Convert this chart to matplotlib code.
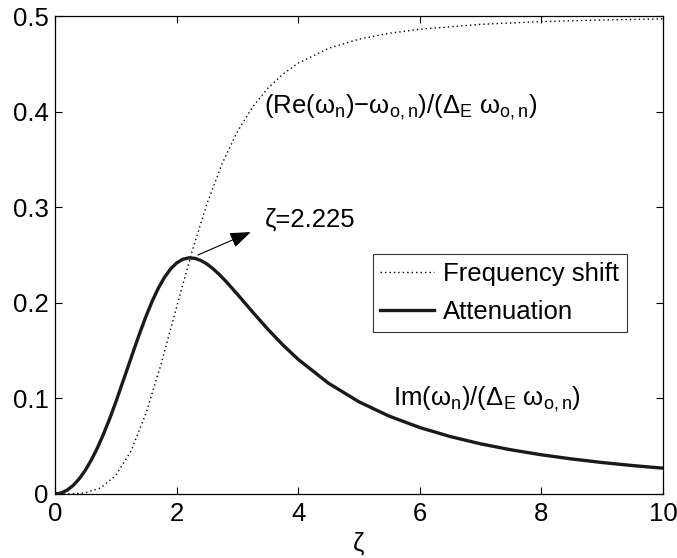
import matplotlib
matplotlib.use("Agg")
import matplotlib.pyplot as plt

plt.rcParams["font.family"] = ["Liberation Sans", "DejaVu Sans"]
plt.rcParams["mathtext.fontset"] = "custom"
plt.rcParams["mathtext.rm"] = "Liberation Sans"
plt.rcParams["mathtext.it"] = "Liberation Sans"
plt.rcParams["mathtext.default"] = "regular"

FS = 18.5

# frequency shift (dotted curve)
zeta_shift = [0, 0.25, 0.5, 0.75, 1.0, 1.25, 1.5, 1.75, 2.0, 2.25, 2.5, 2.75,
              3.0, 3.25, 3.5, 3.75, 4.0, 4.5, 5.0, 5.5, 6.0, 7.0, 8.0, 9.0, 10.0]
freq_shift = [0.0, 0.00008, 0.00126, 0.00632, 0.01944, 0.04491, 0.08483,
              0.13704, 0.19544, 0.25276, 0.30366, 0.34578, 0.37911, 0.40481,
              0.42440, 0.43930, 0.45068, 0.46621, 0.47578, 0.48197, 0.48616,
              0.49128, 0.49414, 0.49588, 0.49700]

# attenuation (solid curve)
zeta_att = [0, 0.1, 0.2, 0.3, 0.4, 0.5, 0.6, 0.7, 0.8, 0.9, 1.0,
            1.2, 1.3, 1.4, 1.5, 1.6, 1.7, 1.8, 1.9, 2.0, 2.1, 2.2, 2.3, 2.4,
            2.5, 2.6, 2.7, 2.8, 3.0, 3.25, 3.5, 3.75, 4.0, 4.5, 5.0, 5.5,
            6.0, 6.5, 7.0, 7.5, 8.0, 8.5, 9.0, 9.5, 10.0]
attenuation = [0.0, 0.00100, 0.00400, 0.00900, 0.01598, 0.02494, 0.03581,
               0.04852, 0.06294, 0.07888, 0.09607,
               0.13272, 0.15129, 0.16933, 0.18635, 0.20179, 0.21530, 0.22654,
               0.23534, 0.24162, 0.24547, 0.24703, 0.24654, 0.24429,
               0.24055, 0.23562, 0.22978, 0.22325, 0.20899, 0.19042, 0.17244,
               0.15582, 0.14084, 0.11580, 0.09640, 0.08135,
               0.06953, 0.06011, 0.05248, 0.04622, 0.04101, 0.03664, 0.03292,
               0.02974, 0.02700]

peak_zeta = 2.225

fig = plt.figure(figsize=(6.77, 5.58), dpi=100)
ax = fig.add_axes([0.0812, 0.1147, 0.8981, 0.8566])

ax.plot(zeta_shift, freq_shift, color="black", lw=1.0, linestyle=(0, (1, 2.2)),
        label="Frequency shift")
ax.plot(zeta_att, attenuation, color="#1a1a1a", lw=2.4, label="Attenuation")

ax.set_xlim(0, 10)
ax.set_ylim(0, 0.5)
ax.set_xticks([0, 2, 4, 6, 8, 10])
ax.set_yticks([0, 0.1, 0.2, 0.3, 0.4, 0.5])
ax.set_yticklabels(["0", "0.1", "0.2", "0.3", "0.4", "0.5"])
ax.tick_params(direction="in", top=True, right=True, length=5, width=0.8,
               labelsize=FS)
ax.tick_params(axis="x", pad=6)
ax.tick_params(axis="y", pad=4.5)
for s in ax.spines.values():
    s.set_linewidth(0.9)
ax.set_xlabel("ζ", fontsize=FS, labelpad=4)

ax.text(3.43, 0.398, r"(Re($\omega_n$)$-\omega_{o,n}$)/($\Delta_E$ $\omega_{o,n}$)",
        fontsize=FS, va="baseline", ha="left")
ax.text(5.56, 0.093, r"Im($\omega_n$)/($\Delta_E$ $\omega_{o,n}$)",
        fontsize=FS, va="baseline", ha="left")

ax.annotate("", xy=(3.22, 0.274), xytext=(2.35, 0.250),
            arrowprops=dict(arrowstyle="-|>,head_length=0.8,head_width=0.3",
                            color="black", lw=0.8, mutation_scale=16,
                            shrinkA=0, shrinkB=0))
ax.text(3.46, 0.2795, f"ζ={peak_zeta}", fontsize=FS, va="baseline", ha="left")

leg = ax.legend(loc="upper left", bbox_to_anchor=(0.5225, 0.502), fontsize=FS,
                frameon=True, fancybox=False, edgecolor="black",
                handlelength=2.1, handletextpad=0.35, borderpad=0.3,
                labelspacing=0.55, borderaxespad=0)
leg.get_frame().set_linewidth(0.8)

fig.savefig("out.png", dpi=100)
